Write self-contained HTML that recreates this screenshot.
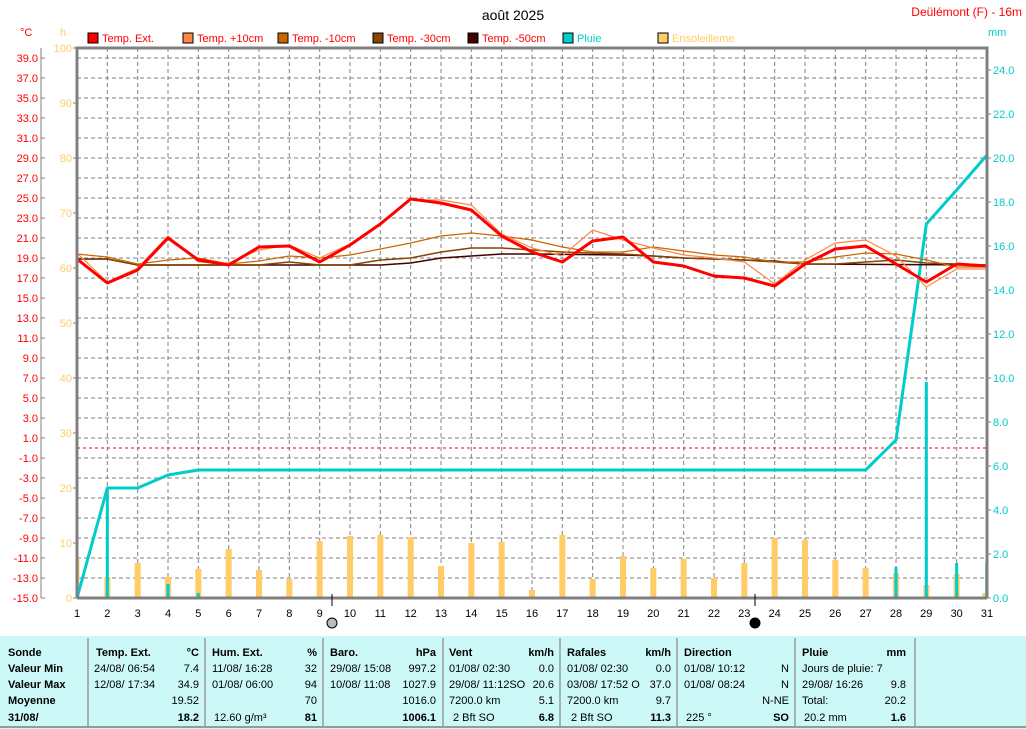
<!DOCTYPE html>
<html><head><meta charset="utf-8"><style>
body{margin:0;background:#fff;}
svg{display:block;font-family:"Liberation Sans",sans-serif;}
</style></head><body>
<svg width="1026" height="729" viewBox="0 0 1026 729" xmlns="http://www.w3.org/2000/svg">
<rect width="1026" height="729" fill="#fff"/>
<text x="513" y="20" font-size="14" text-anchor="middle">août 2025</text>
<text x="1022" y="16" font-size="12" fill="#f00" text-anchor="end">Deülémont (F) - 16m</text>
<text x="20" y="36" font-size="11" fill="#f00">°C</text>
<text x="60" y="36" font-size="11" fill="#fc6">h</text>
<text x="988" y="36" font-size="11" fill="#0cc">mm</text>
<g font-size="11">
<rect x="88" y="33" width="10" height="10" fill="#f00" stroke="#000"/><text x="102" y="42" fill="#f00">Temp. Ext.</text>
<rect x="183" y="33" width="10" height="10" fill="#f84" stroke="#000"/><text x="197" y="42" fill="#f00">Temp. +10cm</text>
<rect x="278" y="33" width="10" height="10" fill="#c60" stroke="#000"/><text x="292" y="42" fill="#f00">Temp. -10cm</text>
<rect x="373" y="33" width="10" height="10" fill="#840" stroke="#000"/><text x="387" y="42" fill="#f00">Temp. -30cm</text>
<rect x="468" y="33" width="10" height="10" fill="#400" stroke="#000"/><text x="482" y="42" fill="#f00">Temp. -50cm</text>
<rect x="563" y="33" width="10" height="10" fill="#0cc" stroke="#000"/><text x="577" y="42" fill="#0cc">Pluie</text>
<rect x="658" y="33" width="10" height="10" fill="#fc6" stroke="#000"/><text x="672" y="42" fill="#fc6">Ensoleilleme</text>
</g>
<!-- grid -->
<g stroke="#808080" stroke-dasharray="4,3" stroke-width="1">
<path d="M77 58H987M77 78H987M77 98H987M77 118H987M77 138H987M77 158H987M77 178H987M77 198H987M77 218H987M77 238H987M77 258H987M77 278H987M77 298H987M77 318H987M77 338H987M77 358H987M77 378H987M77 398H987M77 418H987M77 438H987M77 458H987M77 478H987M77 498H987M77 518H987M77 538H987M77 558H987M77 578H987"/>
<path d="M107.3 48V598M137.7 48V598M168 48V598M198.3 48V598M228.7 48V598M259 48V598M289.3 48V598M319.7 48V598M350 48V598M380.3 48V598M410.7 48V598M441 48V598M471.3 48V598M501.7 48V598M532 48V598M562.3 48V598M592.7 48V598M623 48V598M653.3 48V598M683.7 48V598M714 48V598M744.3 48V598M774.7 48V598M805 48V598M835.3 48V598M865.7 48V598M896 48V598M926.3 48V598M956.7 48V598"/>
</g>
<path d="M77 448H987" stroke="#f00" stroke-dasharray="3,3"/>
<!-- data in day units -->
<g transform="translate(77,0) scale(30.3333,1)">
<g fill="#fc6">
<rect x="0" y="558" width="0.08" height="40"/>
<rect x="0.9" y="577" width="0.2" height="21"/>
<rect x="1.9" y="563" width="0.2" height="35"/>
<rect x="2.9" y="577" width="0.2" height="21"/>
<rect x="3.9" y="569" width="0.2" height="29"/>
<rect x="4.9" y="549" width="0.2" height="49"/>
<rect x="5.9" y="570" width="0.2" height="28"/>
<rect x="6.9" y="579" width="0.2" height="19"/>
<rect x="7.9" y="541" width="0.2" height="57"/>
<rect x="8.9" y="536" width="0.2" height="62"/>
<rect x="9.9" y="535" width="0.2" height="63"/>
<rect x="10.9" y="537" width="0.2" height="61"/>
<rect x="11.9" y="566" width="0.2" height="32"/>
<rect x="12.9" y="543" width="0.2" height="55"/>
<rect x="13.9" y="542" width="0.2" height="56"/>
<rect x="14.9" y="590" width="0.2" height="8"/>
<rect x="15.9" y="535" width="0.2" height="63"/>
<rect x="16.9" y="579" width="0.2" height="19"/>
<rect x="17.9" y="556" width="0.2" height="42"/>
<rect x="18.9" y="568" width="0.2" height="30"/>
<rect x="19.9" y="559" width="0.2" height="39"/>
<rect x="20.9" y="578" width="0.2" height="20"/>
<rect x="21.9" y="563" width="0.2" height="35"/>
<rect x="22.9" y="538" width="0.2" height="60"/>
<rect x="23.9" y="540" width="0.2" height="58"/>
<rect x="24.9" y="560" width="0.2" height="38"/>
<rect x="25.9" y="568" width="0.2" height="30"/>
<rect x="26.9" y="573" width="0.2" height="25"/>
<rect x="27.9" y="585" width="0.2" height="13"/>
<rect x="28.9" y="574" width="0.2" height="24"/>
<rect x="29.85" y="593" width="0.15" height="5"/>
</g>
<g fill="#0cc">
<rect x="0.95" y="488" width="0.1" height="110"/>
<rect x="2.95" y="584" width="0.1" height="14"/>
<rect x="3.95" y="593" width="0.1" height="5"/>
<rect x="26.95" y="567" width="0.1" height="31"/>
<rect x="27.95" y="382" width="0.1" height="216"/>
<rect x="28.95" y="563" width="0.1" height="35"/>
<rect x="29.94" y="563" width="0.06" height="35"/>
</g>
<g fill="none" stroke-linejoin="round">
<polyline vector-effect="non-scaling-stroke" stroke="#0cc" stroke-width="3" points="0,598 1,488 2,488 3,475 4,470 5,470 26,470 27,440 28,224 29,190 30,155"/>
<polyline vector-effect="non-scaling-stroke" stroke="#400" stroke-width="1.5" points="0,259 1,259 2,265 3,265 10,265 11,263 12,258 13,256 14,254 15,254 18,255 19,256 20,258 23,261 24,264 30,265"/>
<polyline vector-effect="non-scaling-stroke" stroke="#840" stroke-width="1.5" points="0,259 1,259 2,265 3,265 4,265 5,265 6,265 7,262 8,265 9,265 10,260 11,258 12,252 13,248 14,248 15,250 16,252 17,253 18,254 19,256 20,258 21,259 22,260 23,262 24,264 25,264 26,262 27,260 28,263 29,264 30,265"/>
<polyline vector-effect="non-scaling-stroke" stroke="#c60" stroke-width="1.2" points="0,254 1,257 2,264 3,260 4,258 5,264 6,261 7,256 8,258 9,255 10,249 11,243 12,236 13,233 14,236 15,240 16,247 17,252 18,252 19,247 20,251 21,255 22,257 23,262 24,262 25,257 26,253 27,254 28,260 29,267 30,267"/>
<polyline vector-effect="non-scaling-stroke" stroke="#f84" stroke-width="1.2" points="0,253 1,282 2,268 3,236 4,262 5,263 6,250 7,245 8,258 9,244 10,225 11,200 12,200 13,205 14,234 15,248 16,256 17,230 18,240 19,248 20,255 21,258 22,262 23,284 24,260 25,243 26,240 27,256 28,287 29,269 30,269"/>
<polyline vector-effect="non-scaling-stroke" stroke="#f00" stroke-width="3" points="0,259 1,283 2,270 3,238 4,260 5,265 6,247 7,246 8,262 9,245 10,224 11,199 12,203 13,210 14,236 15,252 16,262 17,241 18,237 19,262 20,266 21,276 22,278 23,286 24,264 25,249 26,246 27,264 28,282 29,264 30,266"/>
</g>
</g>
<!-- frame -->
<path d="M77 598V48H987V598" fill="none" stroke="#808080" stroke-width="3"/>
<path d="M77 598H987" stroke="#808080" stroke-width="3"/>
<path d="M41 48V598" stroke="#808080"/>
<g stroke="#808080">
<path d="M41 58h4M41 78h4M41 98h4M41 118h4M41 138h4M41 158h4M41 178h4M41 198h4M41 218h4M41 238h4M41 258h4M41 278h4M41 298h4M41 318h4M41 338h4M41 358h4M41 378h4M41 398h4M41 418h4M41 438h4M41 458h4M41 478h4M41 498h4M41 518h4M41 538h4M41 558h4M41 578h4M41 598h4"/>
<path d="M73 48h4M73 103h4M73 158h4M73 213h4M73 268h4M73 323h4M73 378h4M73 433h4M73 488h4M73 543h4M73 598h4"/>
<path d="M987 70h4M987 114h4M987 158h4M987 202h4M987 246h4M987 290h4M987 334h4M987 378h4M987 422h4M987 466h4M987 510h4M987 554h4M987 598h4"/>
</g>
<g font-size="11" fill="#f00" text-anchor="end">
<text x="38" y="62">39.0</text><text x="38" y="82">37.0</text><text x="38" y="102">35.0</text><text x="38" y="122">33.0</text><text x="38" y="142">31.0</text><text x="38" y="162">29.0</text><text x="38" y="182">27.0</text><text x="38" y="202">25.0</text><text x="38" y="222">23.0</text><text x="38" y="242">21.0</text><text x="38" y="262">19.0</text><text x="38" y="282">17.0</text><text x="38" y="302">15.0</text><text x="38" y="322">13.0</text><text x="38" y="342">11.0</text><text x="38" y="362">9.0</text><text x="38" y="382">7.0</text><text x="38" y="402">5.0</text><text x="38" y="422">3.0</text><text x="38" y="442">1.0</text><text x="38" y="462">-1.0</text><text x="38" y="482">-3.0</text><text x="38" y="502">-5.0</text><text x="38" y="522">-7.0</text><text x="38" y="542">-9.0</text><text x="38" y="562">-11.0</text><text x="38" y="582">-13.0</text><text x="38" y="602">-15.0</text>
</g>
<g font-size="11" fill="#fc6" text-anchor="end">
<text x="72" y="52">100</text><text x="72" y="107">90</text><text x="72" y="162">80</text><text x="72" y="217">70</text><text x="72" y="272">60</text><text x="72" y="327">50</text><text x="72" y="382">40</text><text x="72" y="437">30</text><text x="72" y="492">20</text><text x="72" y="547">10</text><text x="72" y="602">0</text>
</g>
<g font-size="11" fill="#0cc">
<text x="993" y="74">24.0</text><text x="993" y="118">22.0</text><text x="993" y="162">20.0</text><text x="993" y="206">18.0</text><text x="993" y="250">16.0</text><text x="993" y="294">14.0</text><text x="993" y="338">12.0</text><text x="993" y="382">10.0</text><text x="993" y="426">8.0</text><text x="993" y="470">6.0</text><text x="993" y="514">4.0</text><text x="993" y="558">2.0</text><text x="993" y="602">0.0</text>
</g>
<g font-size="11" text-anchor="middle">
<text x="77" y="617">1</text><text x="107.3" y="617">2</text><text x="137.7" y="617">3</text><text x="168" y="617">4</text><text x="198.3" y="617">5</text><text x="228.7" y="617">6</text><text x="259" y="617">7</text><text x="289.3" y="617">8</text><text x="319.7" y="617">9</text><text x="350" y="617">10</text><text x="380.3" y="617">11</text><text x="410.7" y="617">12</text><text x="441" y="617">13</text><text x="471.3" y="617">14</text><text x="501.7" y="617">15</text><text x="532" y="617">16</text><text x="562.3" y="617">17</text><text x="592.7" y="617">18</text><text x="623" y="617">19</text><text x="653.3" y="617">20</text><text x="683.7" y="617">21</text><text x="714" y="617">22</text><text x="744.3" y="617">23</text><text x="774.7" y="617">24</text><text x="805" y="617">25</text><text x="835.3" y="617">26</text><text x="865.7" y="617">27</text><text x="896" y="617">28</text><text x="926.3" y="617">29</text><text x="956.7" y="617">30</text><text x="987" y="617">31</text>
</g>
<path d="M332 594V606M755 594V606" stroke="#000"/>
<circle cx="332" cy="623" r="5" fill="#bbb" stroke="#000"/>
<circle cx="755" cy="623" r="5" fill="#000" stroke="#000"/>
<!-- table -->
<rect x="0" y="636" width="1026" height="93" fill="#ccf8f8"/>
<path d="M0 727H1026" stroke="#999" stroke-width="2"/>
<g stroke="#999" stroke-width="1.5">
<path d="M88 638V727M205 638V727M323 638V727M443 638V727M560 638V727M677 638V727M795 638V727M915 638V727"/>
</g>
<g font-size="11">
<g font-weight="bold"><text x="8" y="656">Sonde</text><text x="8" y="672">Valeur Min</text><text x="8" y="688">Valeur Max</text><text x="8" y="704">Moyenne</text><text x="8" y="721">31/08/</text>
<text x="96" y="656">Temp. Ext.</text><text x="212" y="656">Hum. Ext.</text><text x="330" y="656">Baro.</text><text x="449" y="656">Vent</text><text x="567" y="656">Rafales</text><text x="684" y="656">Direction</text><text x="802" y="656">Pluie</text></g>
<g font-weight="bold" text-anchor="end"><text x="199" y="656">°C</text><text x="317" y="656">%</text><text x="436" y="656">hPa</text><text x="554" y="656">km/h</text><text x="671" y="656">km/h</text><text x="906" y="656">mm</text>
<text x="199" y="721">18.2</text><text x="317" y="721">81</text><text x="436" y="721">1006.1</text><text x="554" y="721">6.8</text><text x="671" y="721">11.3</text><text x="789" y="721">SO</text><text x="906" y="721">1.6</text></g>
<text x="94" y="672">24/08/  06:54</text><text x="94" y="688">12/08/  17:34</text>
<text x="212" y="672">11/08/  16:28</text><text x="212" y="688">01/08/  06:00</text><text x="214" y="721">12.60 g/m³</text>
<text x="330" y="672">29/08/  15:08</text><text x="330" y="688">10/08/  11:08</text>
<text x="449" y="672">01/08/  02:30</text><text x="449" y="688">29/08/  11:12SO</text><text x="449" y="704">7200.0 km</text><text x="453" y="721">2 Bft SO</text>
<text x="567" y="672">01/08/  02:30</text><text x="567" y="688">03/08/  17:52  O</text><text x="567" y="704">7200.0 km</text><text x="571" y="721">2 Bft SO</text>
<text x="684" y="672">01/08/  10:12</text><text x="684" y="688">01/08/  08:24</text><text x="686" y="721">225 °</text>
<text x="802" y="672">Jours de pluie: 7</text><text x="802" y="688">29/08/  16:26</text><text x="802" y="704">Total:</text><text x="804" y="721">20.2 mm</text>
<g text-anchor="end"><text x="199" y="672">7.4</text><text x="199" y="688">34.9</text><text x="199" y="704">19.52</text>
<text x="317" y="672">32</text><text x="317" y="688">94</text><text x="317" y="704">70</text>
<text x="436" y="672">997.2</text><text x="436" y="688">1027.9</text><text x="436" y="704">1016.0</text>
<text x="554" y="672">0.0</text><text x="554" y="688">20.6</text><text x="554" y="704">5.1</text>
<text x="671" y="672">0.0</text><text x="671" y="688">37.0</text><text x="671" y="704">9.7</text>
<text x="789" y="672">N</text><text x="789" y="688">N</text><text x="789" y="704">N-NE</text>
<text x="906" y="688">9.8</text><text x="906" y="704">20.2</text></g>
</g>
</svg>
</body></html>
